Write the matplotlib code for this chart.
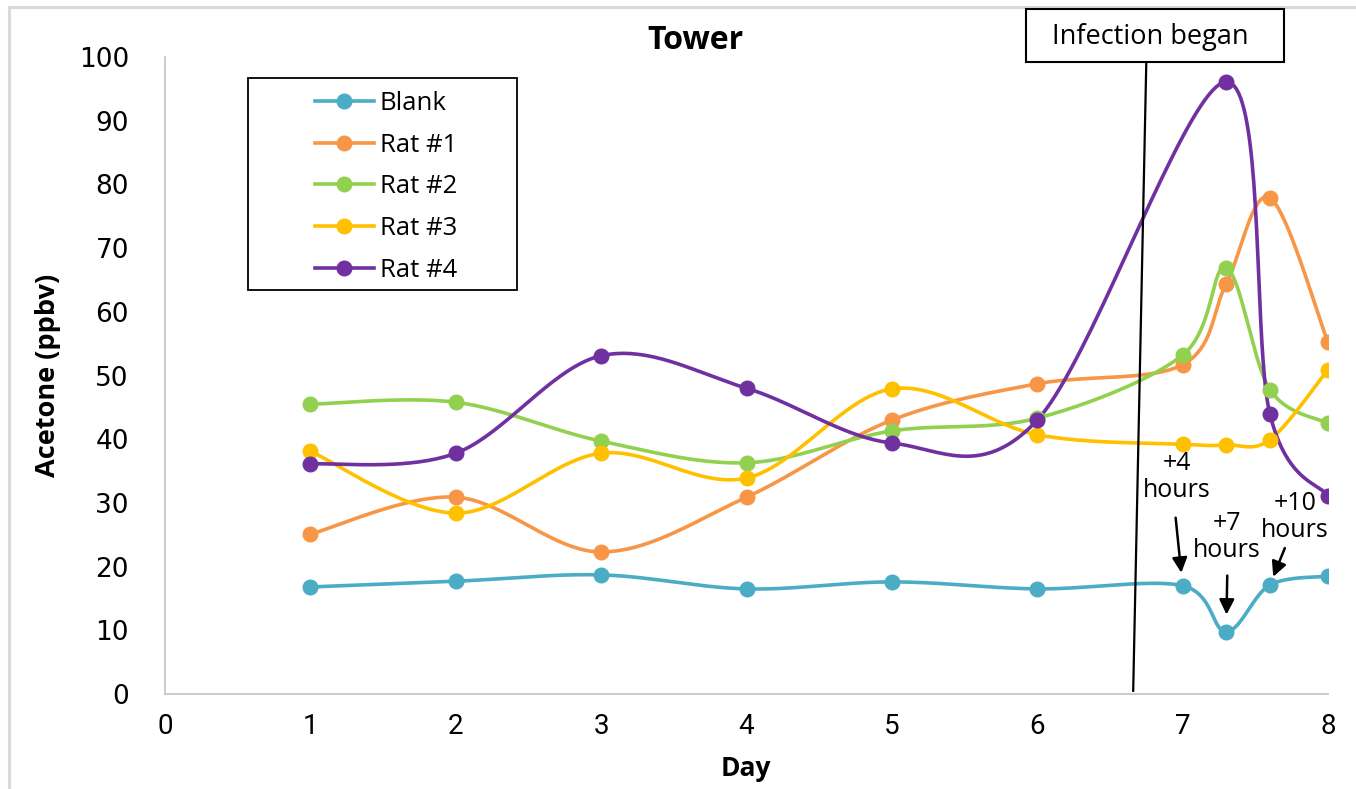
import numpy as np
import matplotlib
matplotlib.use("Agg")
import matplotlib.pyplot as plt
from matplotlib.lines import Line2D
from matplotlib.patches import Rectangle

# ---- data -------------------------------------------------------------
days = [1, 2, 3, 4, 5, 6, 7, 7.3, 7.6, 8]
days_rat4 = [1, 2, 3, 4, 5, 6, 7.3, 7.6, 8]

blank = [16.8, 17.7, 18.7, 16.5, 17.6, 16.5, 17.0, 9.8, 17.1, 18.5]
rat1 = [25.1, 30.9, 22.3, 30.9, 43.0, 48.7, 51.7, 64.4, 77.9, 55.2]
rat2 = [45.5, 45.8, 39.7, 36.3, 41.3, 43.3, 53.2, 66.9, 47.8, 42.5]
rat3 = [38.1, 28.4, 37.8, 33.9, 47.9, 40.7, 39.2, 39.1, 39.9, 50.9]
rat4 = [36.1, 37.8, 53.1, 48.0, 39.4, 43.0, 96.1, 44.0, 31.1]

series_names = ["Blank", "Rat #1", "Rat #2", "Rat #3", "Rat #4"]
series_colors = ["#4bacc6", "#f79646", "#92d050", "#ffc000", "#7030a0"]

x_ticks = [0, 1, 2, 3, 4, 5, 6, 7, 8]
y_ticks = [0, 10, 20, 30, 40, 50, 60, 70, 80, 90, 100]

W, H = 1356, 789


def smooth_curve(x, y, n=40):
    """Cubic Bezier smoothing through every point (Catmull-Rom style)."""
    pts = np.column_stack([x, y]).astype(float)
    out = []
    for i in range(len(pts) - 1):
        p0 = pts[i - 1] if i > 0 else pts[i]
        p1 = pts[i]
        p2 = pts[i + 1]
        p3 = pts[i + 2] if i + 2 < len(pts) else pts[i + 1]
        c1 = p1 + (p2 - p0) / 6.0
        c2 = p2 - (p3 - p1) / 6.0
        t = np.linspace(0, 1, n)[:, None]
        seg = ((1 - t) ** 3) * p1 + 3 * ((1 - t) ** 2) * t * c1 \
            + 3 * (1 - t) * t ** 2 * c2 + t ** 3 * p2
        out.append(seg if i == 0 else seg[1:])
    return np.vstack(out)


def fx(px):
    return px / W


def fy(py):
    return 1 - py / H


fig = plt.figure(figsize=(W / 100, H / 100), dpi=100)
fig.patch.set_facecolor("white")
ax = fig.add_axes([fx(165), fy(694), fx(1328) - fx(165), fy(57) - fy(694)])

# outer chart-area border (top and left edges visible)
fig.add_artist(Line2D([fx(9), 1.0], [fy(7), fy(7)], color="#d9d9d9", lw=2.2,
                      transform=fig.transFigure))
fig.add_artist(Line2D([fx(9), fx(9)], [fy(7), 0.0], color="#d9d9d9", lw=2.2,
                      transform=fig.transFigure))

all_x = [days, days, days, days, days_rat4]
all_y = [blank, rat1, rat2, rat3, rat4]
handles = []
for xs, ys, name, col in zip(all_x, all_y, series_names, series_colors):
    curve = smooth_curve(xs, ys)
    ax.plot(curve[:, 0], curve[:, 1], color=col, lw=2.6, zorder=3,
            solid_capstyle="round")
    ax.plot(xs, ys, linestyle="none", marker="o", markersize=10.5,
            color=col, zorder=4)
    handles.append(Line2D([], [], color=col, lw=2.6, marker="o",
                          markersize=10.5))

ax.set_xlim(0, 8)
ax.set_ylim(0, 100)
ax.set_xticks(x_ticks)
ax.set_yticks(y_ticks)
ax.tick_params(length=0)
ax.tick_params(axis="x", pad=14)
ax.tick_params(axis="y", pad=26)
for lab in ax.get_yticklabels():
    lab.set_fontfamily("DejaVu Sans")
    lab.set_fontsize(19)
for lab in ax.get_xticklabels():
    lab.set_fontfamily(["Liberation Sans Narrow", "Roboto"])
    lab.set_fontsize(20)

for s in ["top", "right"]:
    ax.spines[s].set_visible(False)
for s in ["left", "bottom"]:
    ax.spines[s].set_color("#c8c8c8")
    ax.spines[s].set_linewidth(1.3)

ax.set_title("Tower", fontsize=23, fontweight="bold", family="Open Sans",
             pad=-2, x=(695 - 165) / (1328 - 165))
fig.text(fx(48), fy(375), "Acetone (ppbv)", rotation=90, ha="center",
         va="center", fontsize=19.5, fontweight="bold", family="Open Sans")
fig.text(fx(746), fy(768), "Day", ha="center", va="center", fontsize=19,
         fontweight="bold", family="Open Sans")

# legend with its own frame
ax.add_patch(Rectangle((fx(248), fy(290)), fx(517) - fx(248),
                       fy(78) - fy(290), transform=fig.transFigure,
                       facecolor="white", edgecolor="black", lw=1.3,
                       zorder=5, clip_on=False))
leg = ax.legend(handles, series_names, loc="upper left",
                bbox_to_anchor=(fx(302), fy(78)),
                bbox_transform=fig.transFigure, frameon=False,
                prop={"family": "Open Sans", "size": 18.5},
                handlelength=2.3, handletextpad=0.22, labelspacing=0.65,
                borderpad=0)
leg.set_zorder(6)

# infection marker line and label box
infect_x = (6.66, 6.75)
infect_y = (0.5, 99.1)
ax.plot(infect_x, infect_y, color="black", lw=1.6, zorder=6, clip_on=False)
fig.add_artist(Rectangle((fx(1026), fy(62)), fx(1284) - fx(1026),
                         fy(9) - fy(62), transform=fig.transFigure,
                         facecolor="white", edgecolor="black", lw=1.5,
                         zorder=7))
fig.text(fx(1150), fy(37), "Infection began", ha="center", va="center",
         fontsize=19.5, family="Open Sans", zorder=8)

# time-point annotations on the blank series
notes = [
    ("+4\nhours", 6, (-6, 109), (-7, 68), 13),
    ("+7\nhours", 7, (1, 95), (1, 56), 17),
    ("+10\nhours", 8, (25, 68), (15, 37), 9),
]
for text, idx, toff, aoff, shrink in notes:
    pt = (days[idx], blank[idx])
    ax.annotate(text, xy=pt, xytext=toff, textcoords="offset pixels",
                ha="center", va="center", fontsize=18, family="Open Sans",
                linespacing=1.1, zorder=8)
    ax.annotate("", xy=pt, xytext=aoff, textcoords="offset pixels",
                arrowprops=dict(arrowstyle="-|>,head_length=0.9,head_width=0.45",
                                color="black", lw=1.8, shrinkA=0,
                                shrinkB=shrink * 0.72),
                zorder=8)

fig.savefig("out.png", dpi=100, facecolor="white")
